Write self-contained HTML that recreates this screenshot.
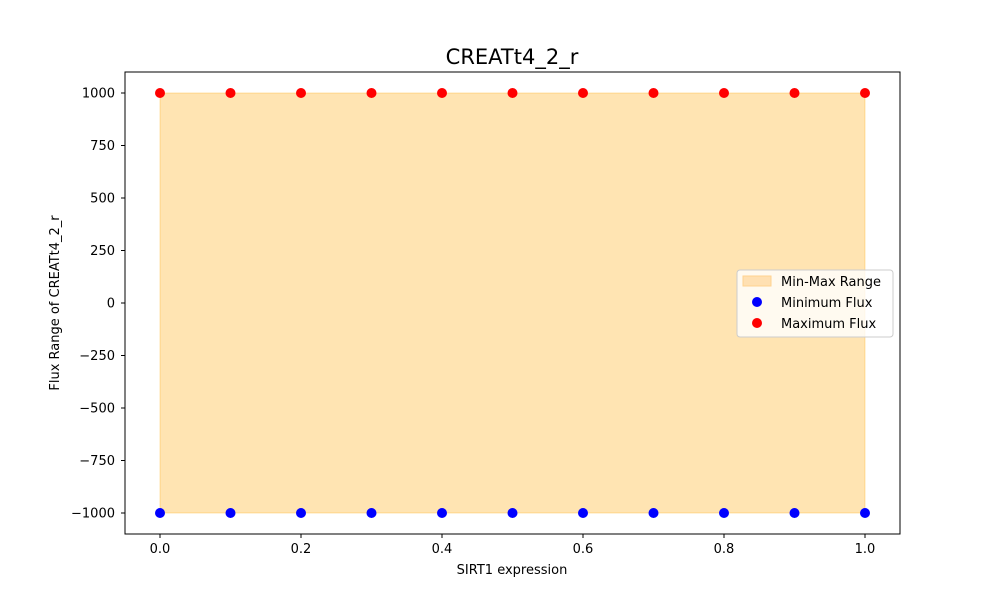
<!DOCTYPE html>
<html><head><meta charset="utf-8"><style>body{margin:0;background:#fff}svg{display:block;font-family:"DejaVu Sans","Liberation Sans",sans-serif}</style></head>
<body>
<svg id="chart" width="1000" height="600">
<rect width="1000" height="600" fill="#fff"/>
<text x="512" y="64" font-size="21" text-anchor="middle">CREATt4_2_r</text>
<g id="plot"></g>
<rect x="125" y="72" width="775" height="462" fill="none" stroke="#000" stroke-width="1"/>
<text x="512" y="574" font-size="13" text-anchor="middle">SIRT1 expression</text>
<text transform="translate(59,303) rotate(-90)" font-size="13" text-anchor="middle">Flux Range of CREATt4_2_r</text>
<g>
<rect x="737" y="270" width="156" height="67" rx="3" fill="#fff" fill-opacity="0.8" stroke="#ccc"/>
<rect x="743" y="276" width="28" height="10" fill="#ffe0b2" stroke="#ffd28f"/>
<text x="781" y="286" font-size="13">Min-Max Range</text>
<circle cx="757" cy="302" r="5" fill="#0000ff"/>
<text x="781" y="307" font-size="13">Minimum Flux</text>
<circle cx="757" cy="323" r="5" fill="#ff0000"/>
<text x="781" y="328" font-size="13">Maximum Flux</text>
</g>
</svg>
<script>
const xValues=[0,0.1,0.2,0.3,0.4,0.5,0.6,0.7,0.8,0.9,1.0];
const minFlux=[-1000,-1000,-1000,-1000,-1000,-1000,-1000,-1000,-1000,-1000,-1000];
const maxFlux=[1000,1000,1000,1000,1000,1000,1000,1000,1000,1000,1000];
const xTicks=[0,0.2,0.4,0.6,0.8,1.0];
const xTickLabels=["0.0","0.2","0.4","0.6","0.8","1.0"];
const yTicks=[-1000,-750,-500,-250,0,250,500,750,1000];
const yTickLabels=["\u22121000","\u2212750","\u2212500","\u2212250","0","250","500","750","1000"];
const NS="http://www.w3.org/2000/svg";
const sx=v=>160+v*705;
const sy=v=>303-v*0.21;
const g=document.getElementById('plot');
function mk(t,a){const e=document.createElementNS(NS,t);for(const k in a)e.setAttribute(k,a[k]);g.appendChild(e);return e;}
let pts=xValues.map((x,i)=>sx(x)+','+sy(maxFlux[i]));
for(let i=xValues.length-1;i>=0;i--)pts.push(sx(xValues[i])+','+sy(minFlux[i]));
const poly=mk('polygon',{points:pts.join(' '),fill:'#ffa500','fill-opacity':0.3,stroke:'#ffa500','stroke-opacity':0.3});


xValues.forEach((x,i)=>{
 const a=mk('circle',{cx:sx(x),cy:sy(minFlux[i]),r:5,fill:'#0000ff'});
 
 
 const b=mk('circle',{cx:sx(x),cy:sy(maxFlux[i]),r:5,fill:'#ff0000'});
 
 
});
xTicks.forEach((v,i)=>{
 const l=mk('line',{x1:sx(v),x2:sx(v),y1:534,y2:538,stroke:'#000'});
 
 
 const t=mk('text',{x:sx(v),y:553,'font-size':13,'text-anchor':'middle'});
 t.textContent=xTickLabels[i];
 
 
});
yTicks.forEach((v,i)=>{
 const l=mk('line',{x1:121,x2:125,y1:sy(v),y2:sy(v),stroke:'#000'});
 
 
 const t=mk('text',{x:115,y:sy(v)+4.5,'font-size':13,'text-anchor':'end'});
 t.textContent=yTickLabels[i];
 
 
});
</script>
</body></html>
